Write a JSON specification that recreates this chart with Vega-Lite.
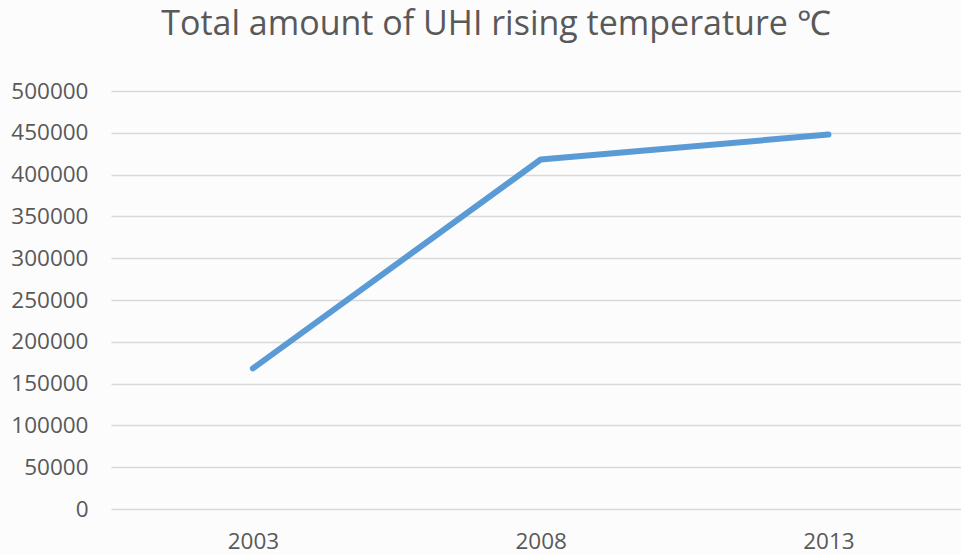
{
  "$schema": "https://vega.github.io/schema/vega-lite/v6.json",
  "width": 850,
  "height": 418,
  "autosize": {"type": "none"},
  "padding": {"left": 111, "top": 91, "right": 0, "bottom": 46},
  "background": "#fcfcfc",
  "title": {
    "text": "Total amount of UHI rising temperature ℃",
    "fontSize": 34,
    "font": "Open Sans",
    "fontWeight": "normal",
    "color": "#595959",
    "anchor": "middle",
    "dx": -40,
    "baseline": "alphabetic",
    "offset": 11
  },
  "config": {"view": {"stroke": null}},
  "data": {
    "values": [
      {"year": "2003", "value": 168200},
      {"year": "2008", "value": 418000},
      {"year": "2013", "value": 447900}
    ]
  },
  "mark": {"type": "line", "color": "#5B9BD5", "strokeWidth": 6, "strokeCap": "round", "strokeJoin": "round"},
  "encoding": {
    "x": {
      "field": "year",
      "type": "ordinal",
      "scale": {"type": "point", "padding": 0.477, "align": 0.517},
      "axis": {
        "title": null,
        "labelAngle": 0,
        "domain": false,
        "ticks": false,
        "labelFont": "Open Sans",
        "labelFontSize": 22.5,
        "labelColor": "#595959",
        "labelPadding": 21,
        "labelBaseline": "top"
      }
    },
    "y": {
      "field": "value",
      "type": "quantitative",
      "scale": {"domain": [0, 500000], "nice": false},
      "axis": {
        "title": null,
        "values": [0, 50000, 100000, 150000, 200000, 250000, 300000, 350000, 400000, 450000, 500000],
        "format": "d",
        "domain": false,
        "ticks": false,
        "labelFont": "Open Sans",
        "labelFontSize": 22.5,
        "labelColor": "#595959",
        "labelPadding": 23,
        "gridColor": "#d9d9d9",
        "gridWidth": 1.5
      }
    }
  }
}
